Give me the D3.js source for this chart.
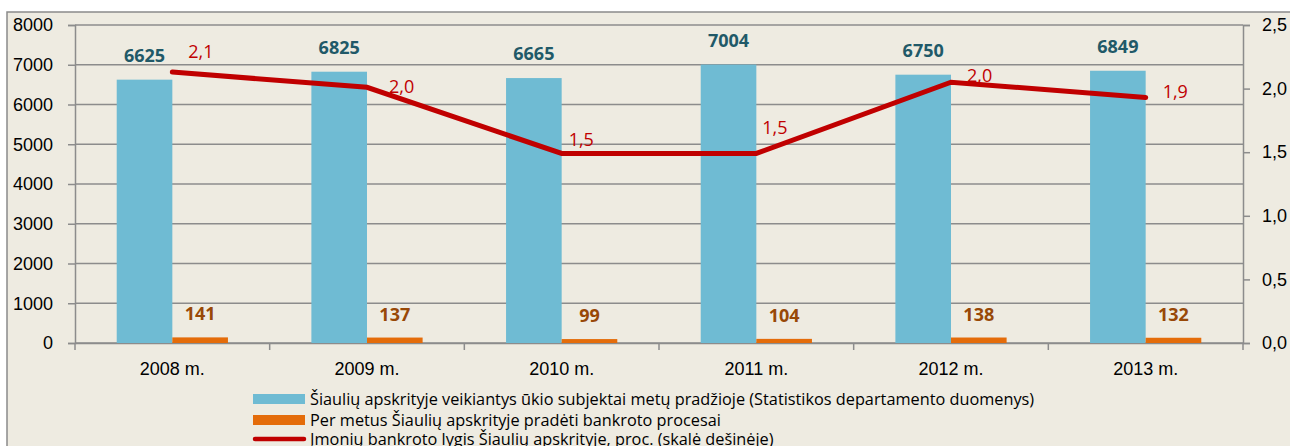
<!DOCTYPE html>
<html>
<head>
<meta charset="utf-8">
<script src="https://cdn.jsdelivr.net/npm/d3@7/dist/d3.min.js"></script>
<style>
  body { margin: 0; background: #fff; }
  svg { display: block; font-family: "Open Sans", Lato, sans-serif; }
</style>
</head>
<body>
<svg width="1290" height="446"></svg>
<script>
var years = ["2008 m.", "2009 m.", "2010 m.", "2011 m.", "2012 m.", "2013 m."];
var subjects = [6625, 6825, 6665, 7004, 6750, 6849];
var bankruptcies = [141, 137, 99, 104, 138, 132];
var rate = [2.13, 2.01, 1.49, 1.49, 2.05, 1.93];
var rateLabels = ["2,1", "2,0", "1,5", "1,5", "2,0", "1,9"];
var leftTicks = [0, 1000, 2000, 3000, 4000, 5000, 6000, 7000, 8000];
var rightTicks = [0, 0.5, 1, 1.5, 2, 2.5];
var legendNames = [
  "Šiaulių apskrityje veikiantys ūkio subjektai metų pradžioje (Statistikos departamento duomenys)",
  "Per metus Šiaulių apskrityje pradėti bankroto procesai",
  "Įmonių bankroto lygis Šiaulių apskrityje, proc. (skalė dešinėje)"
];

var svg = d3.select("svg");
var blue = "#6fbbd3", orange = "#e46c0a", red = "#c00000", grid = "#8c8c8c";

// frame
svg.append("rect").attr("x", 7).attr("y", 12).attr("width", 1300).attr("height", 460)
  .attr("fill", "#eeebe1").attr("stroke", "#8a8a8a").attr("stroke-width", 1.5);

var plot = { left: 75, right: 1243, top: 25, bottom: 343 };

var x = d3.scaleBand().domain(years).range([plot.left, plot.right]);
var inner = x.bandwidth() / 1.75;
var yL = d3.scaleLinear().domain([0, 8000]).range([plot.bottom, plot.top]);
var yR = d3.scaleLinear().domain([0, 2.5]).range([plot.bottom, plot.top]);

// gridlines
svg.append("g").selectAll("line").data(leftTicks).join("line")
  .attr("x1", plot.left).attr("x2", plot.right)
  .attr("y1", d => yL(d)).attr("y2", d => yL(d))
  .attr("stroke", grid).attr("stroke-width", 1.5);

// left axis
var la = svg.append("g").attr("transform", "translate(" + plot.left + ",0)")
  .call(d3.axisLeft(yL).tickValues(leftTicks).tickSize(7).tickPadding(15).tickFormat(d3.format("d")));
la.select(".domain").attr("stroke", grid).attr("stroke-width", 1.5);
la.selectAll(".tick line").attr("stroke", grid).attr("stroke-width", 1.5);
la.selectAll("text").attr("font-size", 18).attr("fill", "#000");

// right axis
var ra = svg.append("g").attr("transform", "translate(" + plot.right + ",0)")
  .call(d3.axisRight(yR).tickValues(rightTicks).tickSize(7).tickPadding(12).tickFormat(d => d3.format(".1f")(d).replace(".", ",")));
ra.select(".domain").attr("stroke", grid).attr("stroke-width", 1.5);
ra.selectAll(".tick line").attr("stroke", grid).attr("stroke-width", 1.5);
ra.selectAll("text").attr("font-size", 18).attr("fill", "#000");

// bottom axis
var ba = svg.append("g").attr("transform", "translate(0," + plot.bottom + ")")
  .call(d3.axisBottom(x).tickSize(0).tickPadding(19));
ba.select(".domain").attr("stroke", grid).attr("stroke-width", 1.5);
ba.selectAll("text").attr("font-size", 18).attr("fill", "#000");
svg.append("g").selectAll("line").data(d3.range(years.length + 1)).join("line")
  .attr("x1", i => plot.left + i * x.step()).attr("x2", i => plot.left + i * x.step())
  .attr("y1", plot.bottom).attr("y2", plot.bottom + 7)
  .attr("stroke", grid).attr("stroke-width", 1.5);

// bars
svg.append("g").selectAll("rect").data(subjects).join("rect")
  .attr("x", (d, i) => x(years[i]) + x.bandwidth() / 2 - inner / 2)
  .attr("width", inner / 2)
  .attr("y", d => yL(d)).attr("height", d => yL(0) - yL(d))
  .attr("fill", blue);
svg.append("g").selectAll("rect").data(bankruptcies).join("rect")
  .attr("x", (d, i) => x(years[i]) + x.bandwidth() / 2)
  .attr("width", inner / 2)
  .attr("y", d => yL(d)).attr("height", d => yL(0) - yL(d))
  .attr("fill", orange);

// bar labels
svg.append("g").selectAll("text").data(subjects).join("text")
  .attr("x", (d, i) => x(years[i]) + x.bandwidth() / 2 - inner / 4)
  .attr("y", d => yL(d) - 18)
  .attr("text-anchor", "middle").attr("font-size", 18).attr("font-weight", "bold")
  .attr("fill", "#215968").text(d => d);
svg.append("g").selectAll("text").data(bankruptcies).join("text")
  .attr("x", (d, i) => x(years[i]) + x.bandwidth() / 2 + inner / 4)
  .attr("y", d => yL(d) - 17)
  .attr("text-anchor", "middle").attr("font-size", 18).attr("font-weight", "bold")
  .attr("fill", "#984807").text(d => d);

// line
var cx = (d, i) => x(years[i]) + x.bandwidth() / 2;
svg.append("path").datum(rate)
  .attr("d", d3.line().x(cx).y(d => yR(d)))
  .attr("fill", "none").attr("stroke", red).attr("stroke-width", 5)
  .attr("stroke-linecap", "round").attr("stroke-linejoin", "miter");

var nudge = [[16, -14], [22, 6], [7, -7], [6, -19], [16, 0], [17, 0]];
svg.append("g").selectAll("text").data(rate).join("text")
  .attr("x", (d, i) => cx(d, i) + nudge[i][0])
  .attr("y", (d, i) => yR(d) + nudge[i][1])
  .attr("font-size", 18).attr("fill", red)
  .text((d, i) => rateLabels[i]);

// legend
var lg = svg.append("g").attr("transform", "translate(253,0)");
var rowsY = [399, 420, 439];
lg.append("rect").attr("x", 0).attr("y", rowsY[0] - 5).attr("width", 52).attr("height", 10).attr("fill", blue);
lg.append("rect").attr("x", 0).attr("y", rowsY[1] - 5).attr("width", 52).attr("height", 10).attr("fill", orange);
lg.append("line").attr("x1", 2).attr("x2", 51).attr("y1", rowsY[2]).attr("y2", rowsY[2])
  .attr("stroke", red).attr("stroke-width", 4.5).attr("stroke-linecap", "round");
lg.selectAll("text").data(legendNames).join("text")
  .attr("x", 57).attr("y", (d, i) => rowsY[i] + 6)
  .attr("font-size", 16.3).attr("fill", "#000").text(d => d);
</script>
</body>
</html>
